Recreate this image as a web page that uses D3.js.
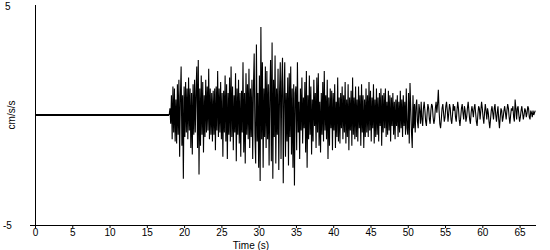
<!DOCTYPE html>
<html>
<head>
<meta charset="utf-8">
<script src="https://cdn.jsdelivr.net/npm/d3@7"></script>
<style>
  body { margin: 0; background: #fff; }
  svg { display: block; }
  .lbl { font-family: "Liberation Sans", Arial, sans-serif; font-size: 10px; fill: #000; }
</style>
</head>
<body>
<div id="chart"></div>
<script>
// accelerogram record: quiet until the trigger, then samples every dt seconds
const quietStart = 0;
const recordStart = 18.0;
const dt = 0.1;
const accel = [
  0.0, 0.3, -0.4, 0.9, -1.1, 1.3, -0.8, 1.2, -1.2, 0.7,
  -1.3, 1.4, -0.9, 1.6, -1.9, 0.8, 2.2, -1.4, 0.9, -2.9,
  1.3, -1.0, 1.5, -0.8, 1.2, -1.1, 1.7, -0.7, 1.2, -1.5,
  1.0, -1.8, 1.4, -0.9, 1.6, -0.8, 1.1, 2.2, -1.5, 2.5,
  -2.7, 1.2, -1.4, 1.8, -0.9, 1.5, -1.7, 0.9, -1.0, 1.6,
  -0.8, 1.3, -0.7, 2.1, -1.1, 1.2, -0.9, 1.0, -1.2, 1.1,
  -0.9, 1.2, -1.6, 1.3, -0.7, 2.0, -1.0, 1.2, -0.8, 1.5,
  -1.1, 1.0, -1.9, 1.1, -0.8, 1.8, -1.2, 1.4, -2.0, 1.0,
  -0.9, 1.7, -1.2, 2.2, -1.0, 1.3, -1.6, 0.9, -0.8, 1.9,
  -2.1, 1.2, -0.9, 1.6, -1.3, 1.0, -1.9, 1.1, -0.8, 2.4,
  -1.7, 1.0, -2.2, 1.9, -0.9, 1.4, -1.1, 2.1, -1.5, 1.2,
  -1.0, 1.6, -2.0, 1.3, 2.8, -0.9, -2.2, 3.2, -1.2, 1.0,
  -2.4, 1.8, -3.0, 4.0, -1.1, 2.4, -2.4, 1.2, -1.0, 2.2,
  -1.5, 2.0, -1.1, 1.4, -2.3, 1.0, 2.5, -2.1, 3.3, -2.9,
  1.6, -1.0, 2.7, -2.2, 1.2, -0.9, 2.1, -2.5, 1.0, 2.4,
  -2.0, 1.5, 2.6, -3.1, 0.9, 2.4, -1.9, 1.0, -1.2, 1.7,
  -2.3, 1.9, -1.0, 2.2, -1.8, 1.2, -2.4, 1.4, -3.2, 1.0,
  1.3, -1.6, 2.4, -0.8, 0.6, -2.0, 1.2, -0.7, 1.7, -1.3,
  0.8, -0.6, 1.5, -1.7, 2.0, -2.4, 0.9, -1.1, 1.8, -0.9,
  1.3, -1.8, 0.7, -1.2, 1.6, -0.5, 1.0, -1.5, 1.7, -0.8,
  1.9, -1.4, 0.6, -1.7, 1.0, -0.9, 1.5, -1.2, 2.0, -0.7,
  0.9, -1.1, 1.6, -2.0, 0.8, -1.4, 1.2, -0.6, 1.1, -1.6,
  1.0, -0.7, 1.4, -1.5, 0.6, -1.0, 1.7, -1.2, 0.8, -1.3,
  1.0, -0.6, 1.3, -1.1, 0.9, -0.8, 1.5, -1.3, 0.7, -1.0,
  1.4, -1.6, 0.8, -0.7, 1.1, -1.4, 1.7, -0.9, 0.8, -1.1,
  1.3, -1.0, 0.7, -1.2, 1.3, -0.6, 0.9, -1.4, 1.4, -0.8,
  0.9, -1.5, 0.7, -1.0, 1.2, -0.8, 0.9, -1.0, 1.5, -0.7,
  1.1, -1.2, 0.8, -0.6, 1.4, -1.3, 0.7, -1.0, 1.2, -0.9,
  0.8, -1.2, 1.0, -0.5, 1.2, -1.4, 0.9, -0.8, 1.0, -0.6,
  1.2, -1.0, 0.6, -0.9, 1.1, -0.7, 0.9, -1.2, 0.8, -0.5,
  1.0, -0.9, 0.6, -1.1, 0.7, -0.5, 0.9, -1.0, 0.6, -0.8,
  1.1, -0.6, 0.7, -1.0, 0.9, -0.5, 0.6, -0.9, 1.2, -0.6,
  -0.9, 1.0, -1.3, 1.45, 0.3, -0.8, -1.5, 0.9, -0.6, 0.5,
  -0.8, 0.4, 0.7, -0.3, -0.6, 0.5, 0.2, -0.4, 0.6, -0.2,
  -0.5, 0.3, 0.6, 0.2, -0.3, -0.5, 0.1, 0.5, 0.3, -0.2,
  -0.4, 0.2, 0.5, 0.4, -0.1, -0.4, -0.2, 0.3, 0.6, 0.1,
  0.5, 1.15, 0.2, -0.4, -0.6, -0.2, 0.3, 0.5, 0.1, -0.3,
  -0.1, 0.4, 0.6, 0.2, -0.3, 0.1, 0.5, 0.3, -0.2, -0.4,
  0.0, 0.5, 0.2, 0.4, -0.1, -0.3, 0.2, 0.6, 0.3, -0.2,
  -0.5, -0.1, 0.3, 0.5, 0.1, -0.2, 0.4, 0.2, -0.3, -0.1,
  0.3, 0.6, 0.2, -0.2, -0.4, 0.1, 0.4, 0.2, -0.1, 0.3,
  0.5, 0.1, -0.3, -0.5, 0.0, 0.4, 0.3, -0.2, 0.2, 0.6,
  0.3, -0.1, -0.4, 0.1, 0.5, 0.2, -0.2, 0.3, 0.1, -0.3,
  -0.6, -0.2, 0.2, 0.4, 0.1, -0.2, 0.3, 0.5, 0.0, -0.3,
  0.1, 0.4, -0.2, -0.6, -0.1, 0.3, 0.2, -0.3, -0.1, 0.2,
  0.4, 0.1, -0.2, 0.2, 0.5, 0.3, -0.1, -0.4, 0.0, 0.3,
  0.2, 0.4, -0.1, -0.3, 0.7, 0.3, -0.2, 0.3, 0.4, 0.0,
  -0.3, -0.1, 0.2, 0.4, 0.1, -0.2, 0.0, 0.3, 0.2, -0.1,
  0.1, 0.4, 0.3, -0.1, -0.2, 0.2, 0.1, -0.1, 0.2, 0.0,
  0.1, 0.2
];
const timeTicks = [0, 5, 10, 15, 20, 25, 30, 35, 40, 45, 50, 55, 60, 65];
const yLimits = [-5, 5];
const timeMax = 67.2;
const yTitle = 'cm/s/s';
const xTitle = 'Time (s)';

class traceChart {
  constructor(_config, _data) {
    this.config = {
      parentElement: _config.parentElement,
      containerWidth: _config.containerWidth || 550,
      containerHeight: _config.containerHeight || 250,
      margin: _config.margin || {top: 5, right: 14, bottom: 25, left: 35}
    };
    this.data = _data;
    this.initVis();
  }

  initVis() {
    let vis = this;
    vis.width = vis.config.containerWidth - vis.config.margin.left - vis.config.margin.right;
    vis.height = vis.config.containerHeight - vis.config.margin.top - vis.config.margin.bottom;

    vis.svg = d3.select(vis.config.parentElement).append('svg')
      .attr('width', vis.config.containerWidth)
      .attr('height', vis.config.containerHeight);

    vis.chart = vis.svg.append('g')
      .attr('transform', `translate(${vis.config.margin.left},${vis.config.margin.top})`);

    vis.xScale = d3.scaleLinear().domain([0, timeMax]).range([0, vis.width]);
    vis.yScale = d3.scaleLinear().domain(yLimits).range([vis.height, 0]);

    vis.renderVis();
  }

  renderVis() {
    let vis = this;

    // x axis, line pokes out a bit left of the y axis
    let xAxis = d3.axisBottom(vis.xScale).tickValues(timeTicks).tickSize(3).tickSizeOuter(0);
    let xg = vis.chart.append('g')
      .attr('transform', `translate(0,${vis.height})`)
      .call(xAxis);
    xg.select('.domain').attr('d', `M-5,0.5H${vis.width}`).attr('stroke', '#000');
    xg.selectAll('.tick line').attr('stroke', '#000');
    xg.selectAll('.tick text').attr('class', 'lbl').attr('y', 4).attr('dy', '0.71em');

    // y axis is just a line with the two limits written at the far left
    vis.chart.append('line')
      .attr('x1', 0.5).attr('x2', 0.5)
      .attr('y1', vis.yScale(yLimits[1])).attr('y2', vis.yScale(yLimits[0]))
      .attr('stroke', '#000');

    vis.svg.selectAll('.ylim')
      .data(yLimits)
      .join('text')
      .attr('class', 'lbl ylim')
      .attr('x', d => d < 0 ? 3 : 5)
      .attr('y', d => vis.config.margin.top + vis.yScale(d))
      .attr('dy', d => d < 0 ? '0.35em' : '0.5em')
      .text(d => d);

    vis.svg.append('text')
      .attr('class', 'lbl')
      .attr('transform', `translate(15,${vis.config.margin.top + vis.yScale(0)}) rotate(-90)`)
      .attr('text-anchor', 'middle')
      .text(yTitle);

    vis.svg.append('text')
      .attr('class', 'lbl')
      .attr('x', 251).attr('y', 249)
      .attr('text-anchor', 'middle')
      .text(xTitle);

    let line = d3.line()
      .x(d => vis.xScale(d[0]))
      .y(d => vis.yScale(d[1]));

    // quiet part before the trigger shows as a heavier flat line
    vis.chart.append('path')
      .datum([[quietStart, 0], [recordStart, vis.data[0]]])
      .attr('fill', 'none')
      .attr('stroke', '#000')
      .attr('stroke-width', 2)
      .attr('d', line);

    // the trace itself
    let points = vis.data.map((v, i) => [recordStart + i * dt, v]);
    vis.chart.append('path')
      .datum(points)
      .attr('fill', 'none')
      .attr('stroke', '#000')
      .attr('stroke-width', 1.1)
      .attr('d', line);
  }
}

new traceChart({parentElement: '#chart'}, accel);
</script>
</body>
</html>
